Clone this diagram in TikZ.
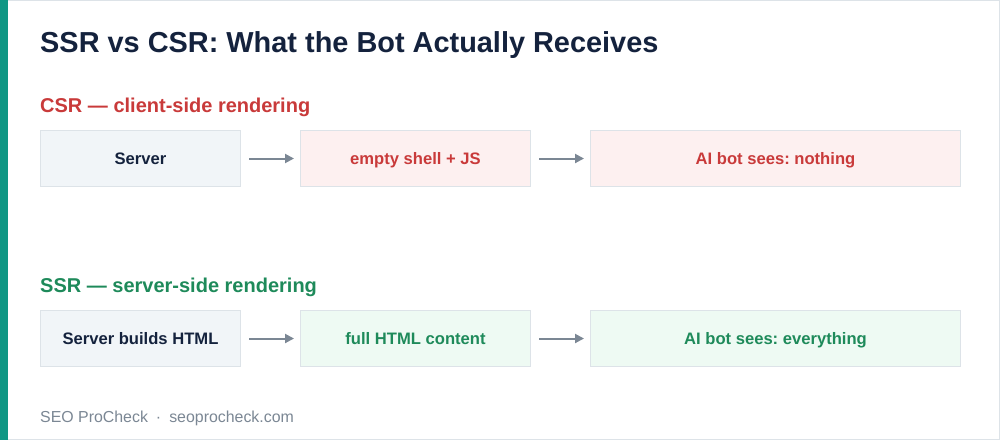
\documentclass[tikz,border=0pt]{standalone}
\usepackage{fontspec}
\setmainfont{Liberation Sans}
\usetikzlibrary{arrows.meta}
\frenchspacing

\definecolor{teal}{HTML}{0F9784}
\definecolor{edge}{HTML}{DDE3E8}
\definecolor{navy}{HTML}{14223D}
\definecolor{csrred}{HTML}{C93A3A}
\definecolor{ssrgreen}{HTML}{1E8A5A}
\definecolor{arrowgray}{HTML}{7B8794}
\definecolor{boxgray}{HTML}{F1F5F8}
\definecolor{boxred}{HTML}{FDF0F0}
\definecolor{boxgreen}{HTML}{EEFAF3}

\begin{document}
\begin{tikzpicture}[x=1pt, y=-1pt,
    box/.style={draw=edge, line width=1pt, anchor=north west, minimum height=56pt,
                inner sep=0pt, text height=12pt, text depth=0pt,
                font=\fontsize{16.6}{19}\selectfont\bfseries},
    flow/.style={-{Triangle[length=9pt, width=9pt]}, draw=arrowgray, line width=2pt, shorten >=1pt},
    section/.style={anchor=base west, font=\fontsize{20}{24}\selectfont\bfseries}]
  % frame
  \useasboundingbox (0,0) rectangle (1000,440);
  \draw[edge, line width=1pt, fill=white] (0.5,0.5) rectangle (999.5,439.5);
  \fill[teal] (0,0) rectangle (8,440);

  % title
  \node[anchor=base west, inner sep=0pt, text=navy, font=\fontsize{28.9}{34}\selectfont\bfseries]
    (title) at (40,52) {SSR vs CSR: What the Bot Actually Receives};

  % CSR row
  \node[section, inner sep=0pt, text=csrred] (csr) at (40,112) {CSR — client-side rendering};
  \node[box, fill=boxgray, text=navy, minimum width=200pt] (csrserver) at (40,130) {Server};
  \node[box, fill=boxred, text=csrred, minimum width=230pt] (csrshell) at (300,130) {empty shell + JS};
  \node[box, fill=boxred, text=csrred, minimum width=370pt] (csrbot) at (590,130) {AI bot sees: nothing};
  \draw[flow] ([xshift=8pt]csrserver.east) -- ([xshift=-5pt]csrshell.west);
  \draw[flow] ([xshift=8pt]csrshell.east) -- ([xshift=-5pt]csrbot.west);

  % SSR row
  \node[section, inner sep=0pt, text=ssrgreen] (ssr) at (40,292) {SSR — server-side rendering};
  \node[box, fill=boxgray, text=navy, minimum width=200pt] (ssrserver) at (40,310) {Server builds HTML};
  \node[box, fill=boxgreen, text=ssrgreen, minimum width=230pt] (ssrhtml) at (300,310) {full HTML content};
  \node[box, fill=boxgreen, text=ssrgreen, minimum width=370pt] (ssrbot) at (590,310) {AI bot sees: everything};
  \draw[flow] ([xshift=8pt]ssrserver.east) -- ([xshift=-5pt]ssrhtml.west);
  \draw[flow] ([xshift=8pt]ssrhtml.east) -- ([xshift=-5pt]ssrbot.west);

  % footer
  \node[anchor=base west, inner sep=0pt, text=arrowgray, font=\fontsize{15.9}{19}\selectfont]
    (footer) at (40,422) {SEO ProCheck\hspace{8pt}·\hspace{8pt}seoprocheck.com};
\end{tikzpicture}
\end{document}
